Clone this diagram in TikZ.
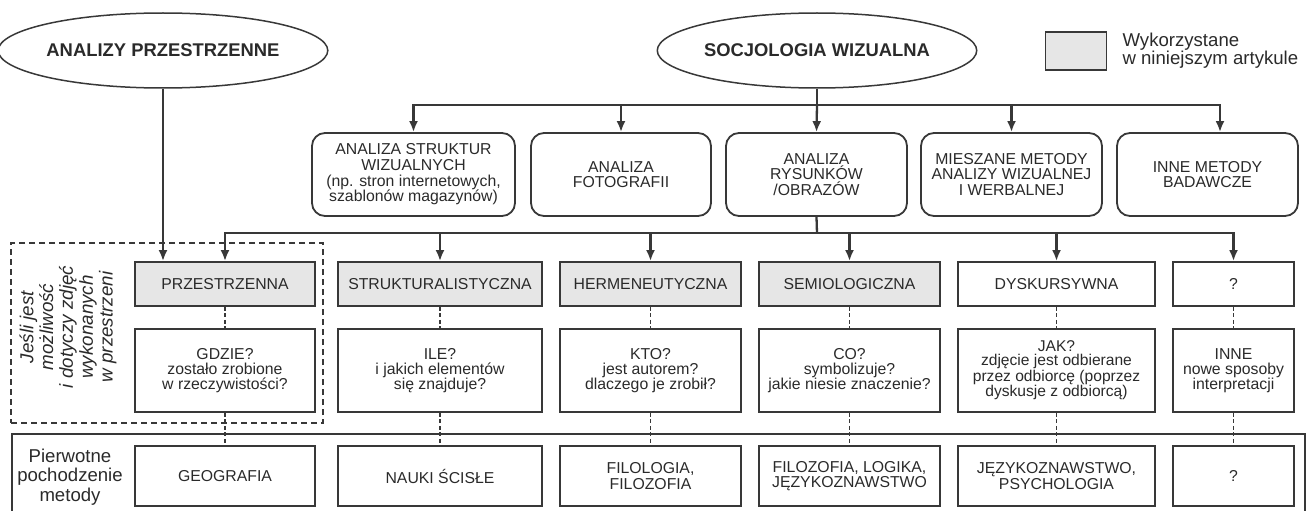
\documentclass[tikz,border=0pt]{standalone}
\usepackage{fontspec}
\setmainfont{Liberation Sans}
\usepackage{tikz}
\usetikzlibrary{arrows.meta,positioning,shapes.geometric}

\definecolor{linec}{HTML}{383838}
\definecolor{textc}{HTML}{2A2A2A}
\definecolor{usedgray}{HTML}{E6E6E6}

\begin{document}
\begin{tikzpicture}[
        x=1pt, y=-1pt,
        font=\fontsize{15.8}{15.6}\selectfont, text=textc,
        ellip/.style={ellipse, draw=linec, line width=1.5pt, minimum width=286pt, minimum height=75pt, inner sep=0pt, font=\fontsize{18.4}{20}\selectfont\bfseries},
        rbox/.style={rectangle, draw=linec, line width=1.8pt, rounded corners=13pt, minimum height=83pt, inner sep=0pt, align=center},
        hbox/.style={rectangle, draw=linec, line width=1.8pt, minimum height=44pt, inner sep=0pt, align=center},
        qbox/.style={rectangle, draw=linec, line width=1.8pt, minimum height=83pt, inner sep=0pt, align=center, font=\fontsize{15.8}{14.8}\selectfont},
        obox/.style={rectangle, draw=linec, line width=1.8pt, minimum height=60pt, inner sep=0pt, align=center},
        used/.style={fill=usedgray},
        side/.style={align=center, font=\fontsize{18.6}{19.8}\selectfont},
        arr/.style={-{Latex[length=11pt,width=9pt]}, draw=linec, line width=2.3pt},
        link/.style={draw=linec, line width=2.3pt},
        dots/.style={draw=linec, line width=1.9pt, dash pattern=on 4pt off 2.5pt},
    ]
    \useasboundingbox (0,0) rectangle (1310,511);

    % gorny poziom
    \node[ellip] (przestrz) at (163,50.5) {ANALIZY PRZESTRZENNE};
    \node[ellip] (socjo) at (817,50.5) {SOCJOLOGIA WIZUALNA};
    \node[hbox, used, line width=1.5pt, minimum width=61pt, minimum height=38pt] (legenda) at (1076,51) {};
    \node[anchor=west, align=left, font=\fontsize{18.6}{14.8}\selectfont] (legtekst) at (1119,51) {Wykorzystane\\w niniejszym artykule};

    % rodzaje analiz
    \node[rbox, minimum width=203pt] (struktury) at (413.5,174.5) {ANALIZA STRUKTUR\\WIZUALNYCH\\(np. stron internetowych,\\szablonów magazynów)};
    \node[rbox, minimum width=180pt] (foto) at (621,174.5) {ANALIZA\\FOTOGRAFII};
    \node[rbox, minimum width=181pt] (rysunki) at (816.5,174.5) {ANALIZA\\RYSUNKÓW\\/OBRAZÓW};
    \node[rbox, minimum width=181pt] (mieszane) at (1011.5,174.5) {MIESZANE METODY\\ANALIZY WIZUALNEJ\\I WERBALNEJ};
    \node[rbox, minimum width=181pt] (inne) at (1207.5,174.5) {INNE METODY\\BADAWCZE};

    % metody
    \node[hbox, used, minimum width=180pt] (m1) at (225,284) {PRZESTRZENNA};
    \node[hbox, used, minimum width=204pt] (m2) at (440,284) {STRUKTURALISTYCZNA};
    \node[hbox, used, minimum width=181pt] (m3) at (650.5,284) {HERMENEUTYCZNA};
    \node[hbox, used, minimum width=181pt] (m4) at (849.5,284) {SEMIOLOGICZNA};
    \node[hbox, minimum width=197pt] (m5) at (1056.5,284) {DYSKURSYWNA};
    \node[hbox, minimum width=121pt] (m6) at (1233.5,284) {?};

    % pytania
    \node[qbox, minimum width=180pt] (q1) at (225,370.5) {GDZIE?\\zostało zrobione\\w rzeczywistości?};
    \node[qbox, minimum width=204pt] (q2) at (440,370.5) {ILE?\\i jakich elementów\\się znajduje?};
    \node[qbox, minimum width=181pt] (q3) at (650.5,370.5) {KTO?\\jest autorem?\\dlaczego je zrobił?};
    \node[qbox, minimum width=181pt] (q4) at (849.5,370.5) {CO?\\symbolizuje?\\jakie niesie znaczenie?};
    \node[qbox, minimum width=197pt, font=\fontsize{15.6}{13.6}\selectfont] (q5) at (1056.5,370.5) {JAK?\\zdjęcie jest odbierane\\przez odbiorcę (poprzez\\dyskusje z odbiorcą)};
    \node[qbox, minimum width=121pt] (q6) at (1233.5,370.5) {INNE\\nowe sposoby\\interpretacji};

    % pochodzenie
    \node[obox, minimum width=180pt] (o1) at (225,476) {GEOGRAFIA};
    \node[obox, minimum width=204pt] (o2) at (440,476) {NAUKI ŚCISŁE};
    \node[obox, minimum width=181pt] (o3) at (650.5,476) {FILOLOGIA,\\FILOZOFIA};
    \node[obox, minimum width=181pt] (o4) at (849.5,476) {FILOZOFIA, LOGIKA,\\JĘZYKOZNAWSTWO};
    \node[obox, minimum width=197pt] (o5) at (1056.5,476) {JĘZYKOZNAWSTWO,\\PSYCHOLOGIA};
    \node[obox, minimum width=121pt] (o6) at (1233.5,476) {?};

    % ramki boczne
    \node[draw=linec, line width=1.5pt, dash pattern=on 6pt off 4pt, minimum width=312pt, minimum height=180pt, inner sep=0pt] (warunek) at (167,333) {};
    \node[side, rotate=90, font=\fontsize{18.8}{19.8}\selectfont\itshape] (jesli) at (68,327) {Jeśli jest\\możliwość\\i dotyczy zdjęć\\wykonanych\\w przestrzeni};
    \draw[draw=linec, line width=1.5pt] (12,520) |- (1305,434) -- (1305,520);
    \node[side] (pierwotne) at (70,477) {Pierwotne\\pochodzenie\\metody};

    % polaczenia
    \coordinate (busA) at (817,105);
    \coordinate (busB) at (817,233);
    \draw[link] (socjo.south) -- (busA);
    \draw[arr] (busA) -| (struktury.north);
    \draw[arr] (busA) -| (foto.north);
    \draw[arr] (busA) -- (rysunki.north);
    \draw[arr] (busA) -| (mieszane.north);
    \draw[arr] (busA) -| ([xshift=12.5pt]inne.north);
    \draw[link] (rysunki.south) -- (busB);
    \draw[arr] (busB) -| (m1.north);
    \draw[arr] (busB) -| (m2.north);
    \draw[arr] (busB) -| (m3.north);
    \draw[arr] (busB) -| (m4.north);
    \draw[arr] (busB) -| (m5.north);
    \draw[arr] (busB) -| (m6.north);
    \draw[arr] (przestrz.south) -- (przestrz.south |- m1.north);
    \draw[dots] (m1.south) -- (q1.north);
    \draw[dots] (m2.south) -- (q2.north);
    \draw[dots] (m3.south) -- (q3.north);
    \draw[dots] (m4.south) -- (q4.north);
    \draw[dots] (m5.south) -- (q5.north);
    \draw[dots] (m6.south) -- (q6.north);
    \draw[dots] (q1.south) -- (o1.north);
    \draw[dots] (q2.south) -- (o2.north);
    \draw[dots] (q3.south) -- (o3.north);
    \draw[dots] (q4.south) -- (o4.north);
    \draw[dots] (q5.south) -- (o5.north);
    \draw[dots] (q6.south) -- (o6.north);
\end{tikzpicture}
\end{document}
